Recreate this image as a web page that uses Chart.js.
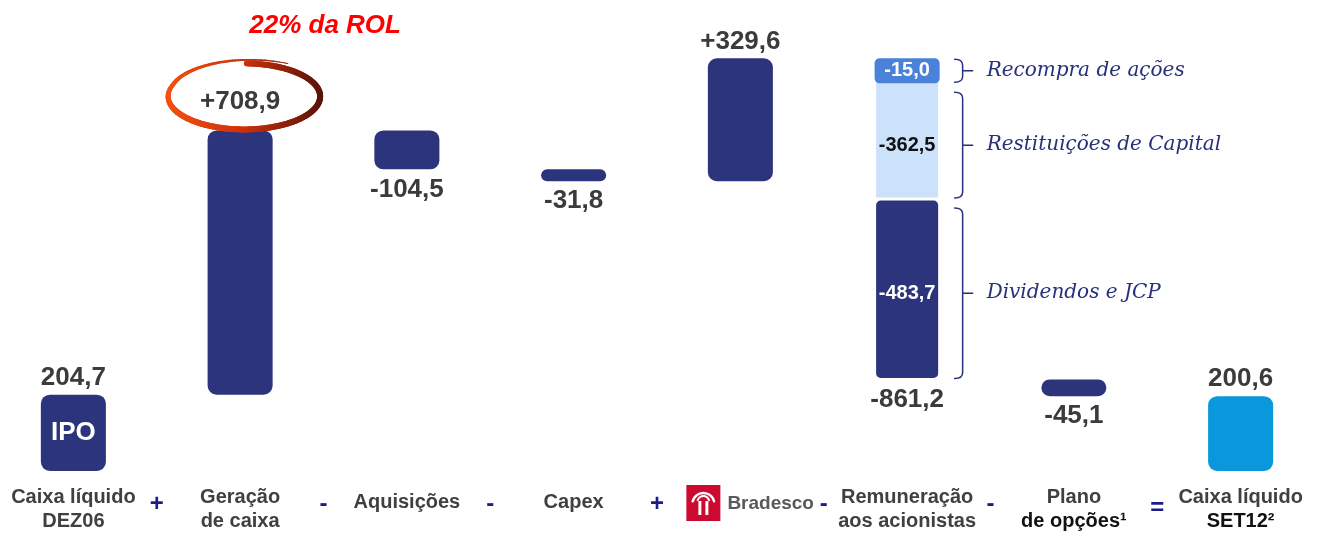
<!DOCTYPE html>
<html lang="pt-BR">
<head>
<meta charset="utf-8">
<title>Geração e uso de caixa</title>
<script src="https://cdn.jsdelivr.net/npm/chart.js@4.4.1/dist/chart.umd.min.js"></script>
<style>
    html, body { margin: 0; padding: 0; background: #fff; overflow: hidden; }
    #wrap { position: absolute; left: -10px; top: 0; width: 1334px; height: 534px; }
</style>
</head>
<body>
<div id="wrap"><canvas id="chart"></canvas></div>
<script>
// waterfall data (R$ milhões)
const categories = ['Caixa líquido DEZ06', 'Geração de caixa', 'Aquisições', 'Capex', 'Bradesco',
    'Remuneração aos acionistas', 'Plano de opções', 'Caixa líquido SET12'];
const categoryLines = [['Caixa líquido', 'DEZ06'], ['Geração', 'de caixa'], ['Aquisições'], ['Capex'], [],
    ['Remuneração', 'aos acionistas'], ['Plano', 'de opções¹'], ['Caixa líquido', 'SET12²']];
const changes = [204.7, 708.9, -104.5, -31.8, 329.6, -861.2, -45.1, 200.6];
const kinds = ['total', 'delta', 'delta', 'delta', 'delta', 'delta', 'delta', 'total'];
const barCaptions = ['IPO', '', '', '', '', '', '', ''];
const operators = ['+', '-', '-', '+', '-', '-', '='];

// breakdown of the shareholder payout bar
const payoutNames = ['Recompra de ações', 'Restituições de Capital', 'Dividendos e JCP'];
const payoutValues = [-15.0, -362.5, -483.7];
const payoutCategory = 5;

const logoCategory = 4;
const highlightCategory = 1;
const highlightNote = '22% da ROL';

const NAVY = '#2C347C';
const LIGHT = '#CCE1FA';
const MID = '#4A82DA';
const CYAN = '#0B97DB';
const TEXT = '#3B3B3B';
const FONT = '"Liberation Sans", Arial, sans-serif';

function fmt(v, signed) {
    const s = Math.abs(v).toFixed(1).replace('.', ',');
    if (v < 0) return '-' + s;
    return signed ? '+' + s : s;
}

let running = 0;
const ranges = changes.map((v, i) => {
    if (kinds[i] === 'total') { running = v; return [0, v]; }
    const start = running;
    running = +(running + v).toFixed(1);
    return [Math.min(start, running), Math.max(start, running)];
});

let level = ranges[payoutCategory][1];
const payoutRanges = payoutValues.map(v => {
    const hi = level;
    level = +(level + v).toFixed(1);
    return [level, hi];
});

const mainColors = categories.map((c, i) => i === categories.length - 1 ? CYAN : NAVY);
const payoutColors = [MID, LIGHT, NAVY];

const datasets = [{
    label: 'Fluxo',
    data: ranges.map((r, i) => i === payoutCategory ? null : r),
    backgroundColor: mainColors,
    borderRadius: 9,
    borderSkipped: false,
    barPercentage: 0.39,
    categoryPercentage: 1,
    grouped: false
}];
payoutNames.forEach((name, k) => {
    datasets.push({
        label: name,
        data: categories.map((c, i) => i === payoutCategory ? payoutRanges[k] : null),
        backgroundColor: payoutColors[k],
        borderColor: '#fff',
        borderWidth: 1.5,
        borderRadius: k === 1 ? 2 : 6,
        borderSkipped: false,
        barPercentage: 0.39,
        categoryPercentage: 1,
        grouped: false
    });
});

function drawBracket(ctx, x, y1, y2) {
    const mid = (y1 + y2) / 2;
    ctx.beginPath();
    ctx.moveTo(x, y1);
    ctx.quadraticCurveTo(x + 8, y1, x + 8, y1 + 6);
    ctx.lineTo(x + 8, y2 - 6);
    ctx.quadraticCurveTo(x + 8, y2, x, y2);
    ctx.moveTo(x + 8, mid);
    ctx.lineTo(x + 18, mid);
    ctx.stroke();
}

function drawHighlight(ctx, cx, cy) {
    const rx = 76, ry = 33;
    const grad = ctx.createLinearGradient(cx - rx, 0, cx + rx, 0);
    grad.addColorStop(0, '#F2500F');
    grad.addColorStop(0.5, '#CC300A');
    grad.addColorStop(1, '#5A1408');
    ctx.strokeStyle = grad;
    ctx.lineCap = 'round';
    const a0 = -88, a1 = 300;
    let prev = null;
    for (let a = a0; a <= a1; a += 2) {
        const f = a > 200 ? 1 + 0.15 * (a - 200) / 100 : 1;
        const t = a * Math.PI / 180;
        const p = [cx + rx * f * Math.cos(t), cy + ry * f * Math.sin(t)];
        if (prev) {
            ctx.lineWidth = a < 150 ? 6 : Math.max(1, 6 - 5 * (a - 150) / 150);
            ctx.beginPath();
            ctx.moveTo(prev[0], prev[1]);
            ctx.lineTo(p[0], p[1]);
            ctx.stroke();
        }
        prev = p;
    }
}

function drawLogo(ctx, cx, cy) {
    const x = cx - 54, y = cy - 18;
    ctx.fillStyle = '#CC0A2F';
    ctx.fillRect(x, y, 34, 36);
    ctx.strokeStyle = '#fff';
    ctx.lineWidth = 2.5;
    ctx.beginPath();
    ctx.arc(x + 17, y + 19, 11, Math.PI * 1.08, Math.PI * 1.92);
    ctx.stroke();
    ctx.lineWidth = 2;
    ctx.beginPath();
    ctx.arc(x + 17, y + 17, 6, Math.PI * 1.1, Math.PI * 1.9);
    ctx.stroke();
    ctx.fillStyle = '#fff';
    ctx.fillRect(x + 12, y + 16, 3, 14);
    ctx.fillRect(x + 19, y + 16, 3, 14);
    ctx.fillStyle = '#58595B';
    ctx.font = 'bold 19px ' + FONT;
    ctx.textAlign = 'left';
    ctx.textBaseline = 'middle';
    ctx.fillText('Bradesco', cx - 13, cy + 1);
}

const waterfallLabels = {
    id: 'waterfallLabels',
    afterDatasetsDraw(chart) {
        const ctx = chart.ctx;
        const xs = chart.scales.x;
        const main = chart.getDatasetMeta(0);
        ctx.save();
        ctx.textAlign = 'center';
        ctx.textBaseline = 'middle';

        // value labels
        categories.forEach((c, i) => {
            let top, bottom, cx;
            if (i === payoutCategory) {
                const first = chart.getDatasetMeta(1).data[i];
                const last = chart.getDatasetMeta(payoutNames.length).data[i];
                top = Math.min(first.y, first.base);
                bottom = Math.max(last.y, last.base);
                cx = first.x;
            } else {
                const el = main.data[i];
                top = Math.min(el.y, el.base);
                bottom = Math.max(el.y, el.base);
                cx = el.x;
            }
            const v = changes[i];
            ctx.font = 'bold 26px ' + FONT;
            ctx.fillStyle = TEXT;
            if (kinds[i] === 'total' || v > 0) {
                const off = i === highlightCategory ? 29 : 17;
                ctx.fillText(fmt(v, kinds[i] === 'delta'), cx, top - off);
                if (i === highlightCategory) {
                    drawHighlight(ctx, cx + 4, top - off - 5);
                    ctx.font = 'bold italic 26px ' + FONT;
                    ctx.fillStyle = '#FF0000';
                    ctx.fillText(highlightNote, cx + 85, 26);
                }
            } else {
                ctx.fillText(fmt(v, false), cx, bottom + 20);
            }
            if (barCaptions[i]) {
                ctx.fillStyle = '#fff';
                ctx.fillText(barCaptions[i], cx, (top + bottom) / 2);
            }
        });

        // payout breakdown labels and brackets
        let nextTop = null;
        payoutNames.forEach((name, k) => {
            const el = chart.getDatasetMeta(k + 1).data[payoutCategory];
            let top = Math.min(el.y, el.base);
            let bottom = Math.max(el.y, el.base);
            const left = el.x - el.width / 2;
            const right = el.x + el.width / 2;
            if (nextTop !== null) top = Math.max(top, nextTop);
            ctx.font = 'bold 20px ' + FONT;
            if (k === 0) {
                // thin segment: the label sits on a pill of the segment colour
                bottom = top + 25;
                ctx.fillStyle = payoutColors[k];
                ctx.beginPath();
                ctx.roundRect(left, top, el.width, 25, 5);
                ctx.fill();
                ctx.fillStyle = '#fff';
            } else {
                ctx.fillStyle = k === 1 ? '#111' : '#fff';
            }
            ctx.textAlign = 'center';
            ctx.fillText(fmt(payoutValues[k], false), el.x, (top + bottom) / 2);
            nextTop = bottom + 8;

            ctx.strokeStyle = '#27307A';
            ctx.lineWidth = 1.5;
            drawBracket(ctx, right + 15, top + 1, bottom - 1);
            ctx.fillStyle = '#27307A';
            ctx.font = 'italic 20px "DejaVu Serif", serif';
            ctx.textAlign = 'left';
            ctx.fillText(name, right + 47, (top + bottom) / 2);
        });

        // category labels under the bars
        ctx.textAlign = 'center';
        categories.forEach((c, i) => {
            const cx = xs.getPixelForValue(i);
            if (i === logoCategory) {
                drawLogo(ctx, cx, 503);
                return;
            }
            const lines = categoryLines[i];
            ctx.font = 'bold 20px ' + FONT;
            ctx.textAlign = 'center';
            ctx.textBaseline = 'middle';
            if (lines.length === 1) {
                ctx.fillStyle = '#404040';
                ctx.fillText(lines[0], cx, 502);
            } else {
                ctx.fillStyle = '#404040';
                ctx.fillText(lines[0], cx, 497);
                ctx.fillStyle = i >= 6 ? '#111' : '#404040';
                ctx.fillText(lines[1], cx, 521);
            }
        });

        // operators between categories
        ctx.font = 'bold 24px ' + FONT;
        ctx.fillStyle = '#1B1B8E';
        operators.forEach((op, i) => {
            const x = (xs.getPixelForValue(i) + xs.getPixelForValue(i + 1)) / 2;
            ctx.fillText(op, x, op === '=' ? 508 : 504);
        });
        ctx.restore();
    }
};

new Chart(document.getElementById('chart'), {
    type: 'bar',
    data: { labels: categories, datasets: datasets },
    options: {
        responsive: true,
        maintainAspectRatio: false,
        animation: false,
        layout: { padding: { top: 5, bottom: 63, left: 0, right: 0 } },
        plugins: { legend: { display: false }, tooltip: { enabled: false } },
        scales: {
            x: { display: false },
            y: { display: false, min: 0, max: 1250 }
        }
    },
    plugins: [waterfallLabels]
});
</script>
</body>
</html>
